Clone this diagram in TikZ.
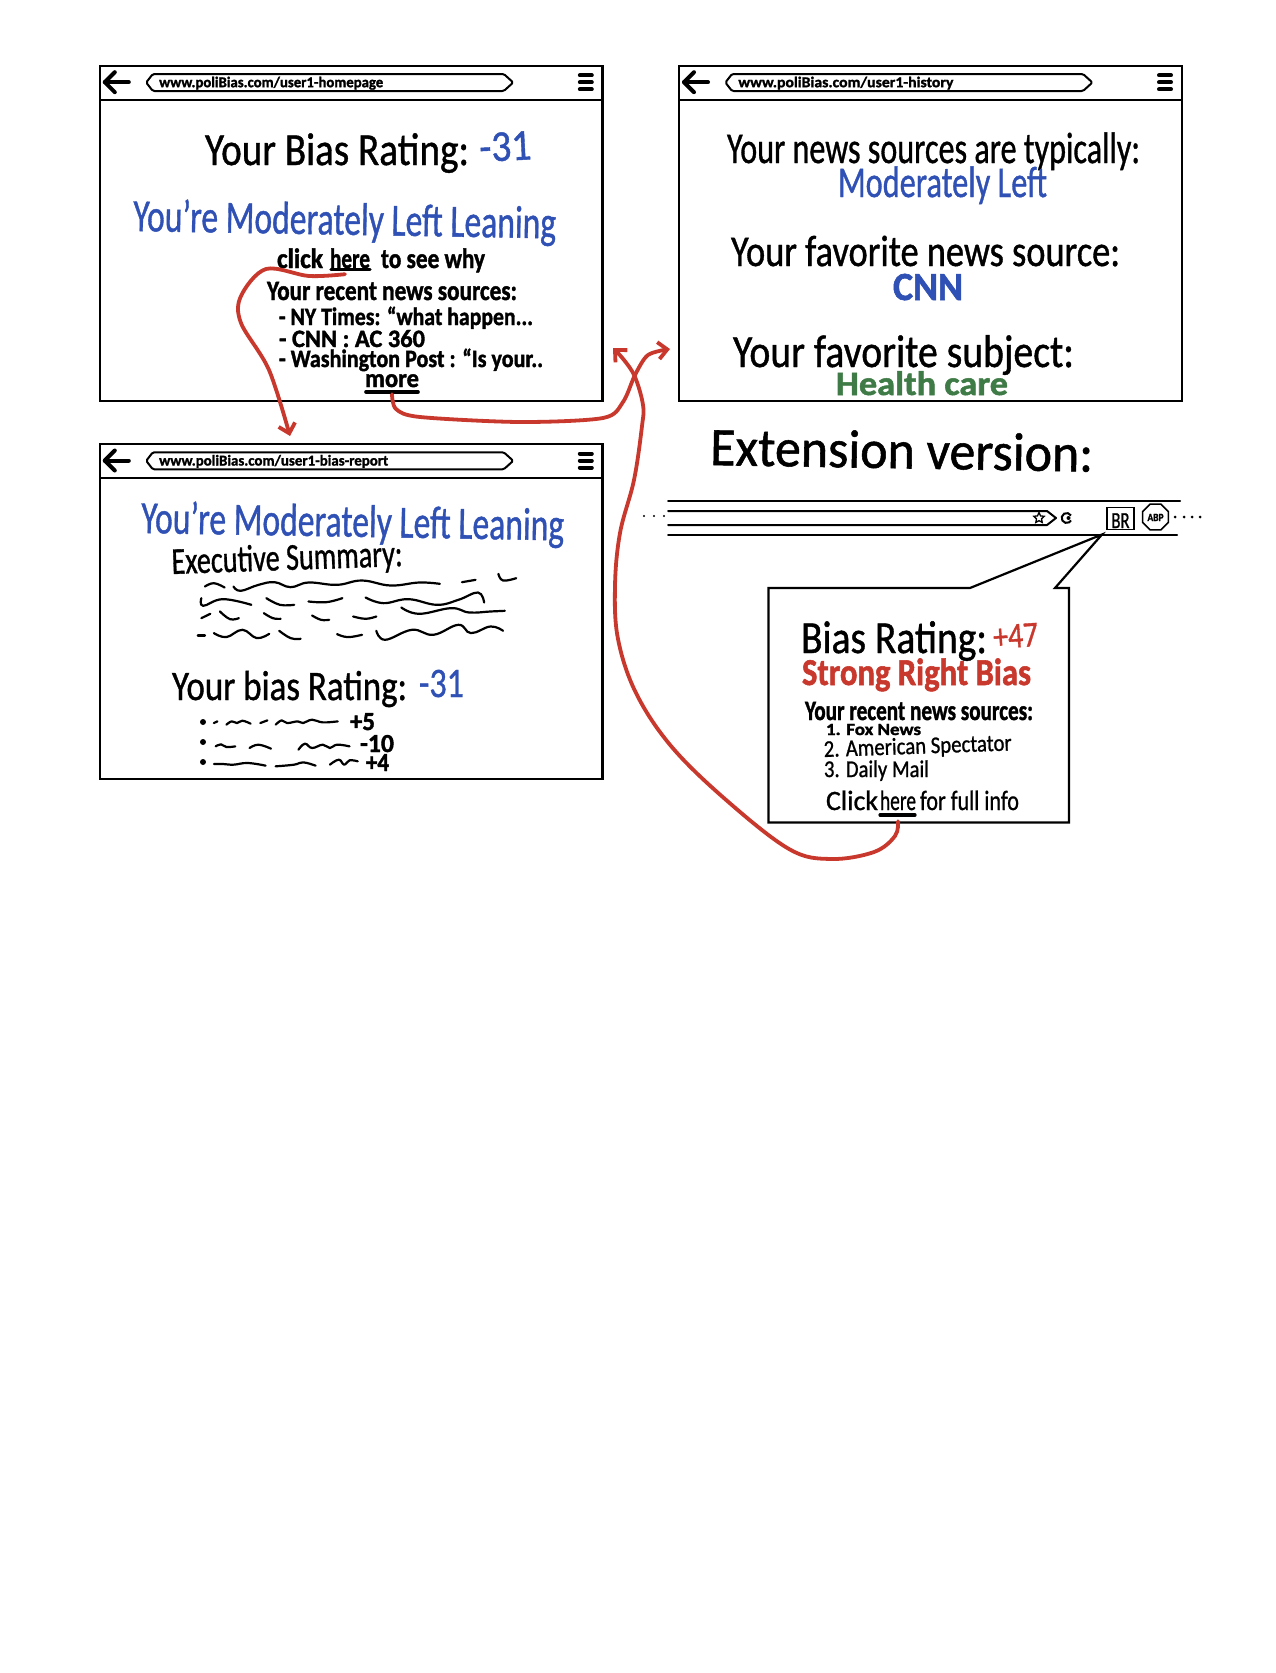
\documentclass[tikz,border=0pt]{standalone}
\usepackage{graphicx}
\usepackage{fontspec}
\setmainfont{Carlito}[FakeBold=1,BoldFeatures={FakeBold=1.5}]
\usetikzlibrary{arrows.meta,shapes.geometric}
\definecolor{inkblue}{HTML}{2F50B4}
\definecolor{inkred}{HTML}{C8382C}
\definecolor{inkgreen}{HTML}{3F7B46}
\tikzset{
  htext/.style={anchor=base west,inner sep=0pt,outer sep=0pt,text=black},
  bluetext/.style={htext,text=inkblue},
  redtext/.style={htext,text=inkred},
  greentext/.style={htext,text=inkgreen},
  heavy/.style={font=\bfseries},
  framebox/.style={draw,line width=2.2pt,anchor=north west,inner sep=0pt,outer sep=0pt},
  pen/.style={line width=2pt,line cap=round,line join=round},
  thick pen/.style={line width=3.2pt,line cap=round,line join=round},
  squig/.style={line width=2.2pt,line cap=round,line join=round},
  flow/.style={draw=inkred,line width=3.8pt,line cap=round,-{Straight Barb[length=9pt,width=17pt]}}
}
\newcommand\hw[7][]{\node[htext,#1] (#2) at (#3,#4) {\resizebox{#5pt}{\height}{\fontsize{#6}{#6}\selectfont #7}};}
\newcommand\wig[1]{\draw[squig] plot[smooth,tension=0.7] coordinates {#1};}
% name, x, y, height, url, urlwidth
\newcommand\browser[6]{%
\begin{scope}[shift={(#2,#3)}]
  \node[framebox,minimum width=502.6pt,minimum height=#4pt] (#1) at (0,0) {};
  \draw[line width=2.2pt] (0,34.3) -- (502.6,34.3);
  \draw[pen,rounded corners=1.5pt] (46.4,16.8) -- (53,8.3) -- (404,8.3) -- (413.4,16.8) -- (404,25.3) -- (53,25.3) -- cycle;
  \node[htext,font=\bfseries] (#1url) at (59.4,21.5) {\resizebox{#6pt}{\height}{\fontsize{15}{15}\selectfont #5}};
  \draw[line width=4pt,line cap=round] (5,16.5) -- (29,16.5);
  \draw[line width=4pt,line cap=round,line join=round] (15,6.5) -- (5,16.5) -- (15,26.5);
  \draw[line width=4pt,line cap=round] (480,9.6) -- (492,9.6) (480,16.6) -- (492,16.6) (480,23.6) -- (492,23.6);
\end{scope}}
\begin{document}
\begin{tikzpicture}[x=1pt,y=-1pt]
\useasboundingbox (0,0) rectangle (1275,1673);
\fill[white] (0,0) rectangle (1275,1673);

% ---------- browser frames
\browser{homepage}{99.8}{65.7}{335}{www.poliBias.com/user1-homepage}{224}
\browser{history}{679}{65.7}{335}{www.poliBias.com/user1-history}{215}
\browser{report}{99.8}{444}{335}{www.poliBias.com/user1-bias-report}{229}

% ---------- homepage
\hw{rateA}{205}{165}{264}{46}{Your Bias Rating:}
\hw[bluetext,rotate=3]{valA}{480}{162}{52}{44}{-31}
\hw[bluetext,rotate=-1]{leanA}{133}{231}{423}{46}{You're Moderately Left Leaning}
\hw[heavy]{clickA}{277}{268}{46}{28}{click}
\hw[heavy]{hereA}{330}{268}{40}{28}{here}
\hw[heavy]{whyA}{381}{268}{104}{28}{to see why}
\hw[heavy]{recentA}{267}{300}{250}{28}{Your recent news sources:}
\hw[heavy]{itemAa}{279}{325}{254}{25}{- NY Times: “what happen...}
\hw[heavy]{itemAb}{279}{347}{146}{25}{- CNN : AC 360}
\hw[heavy]{itemAc}{279}{367}{264}{25}{- Washington Post : “Is your..}
\hw[heavy]{more}{365}{387}{54}{26}{more}
\draw[thick pen] (331,269.5) -- (370,269.5);
\draw[line width=3.6pt,line cap=round] (366,392) -- (418,392);

% ---------- history
\hw{srcB}{727}{163}{413}{44}{Your news sources are typically:}
\hw[bluetext]{leftB}{838}{197}{209}{44}{Moderately Left}
\hw{favB}{731}{266}{389}{44}{Your favorite news source:}
\hw[bluetext,heavy]{cnnB}{893}{300}{70}{40}{CNN}
\hw{subjB}{733}{367}{341}{46}{Your favorite subject:}
\hw[greentext,heavy]{careB}{836}{395}{172}{34}{Health care}

% ---------- report
\hw[bluetext,rotate=-1]{leanC}{141}{533}{423}{46}{You're Moderately Left Leaning}
\hw[rotate=2]{execC}{172}{574}{231}{38}{Executive Summary:}
\hw{rateC}{172}{700}{235}{42}{Your bias Rating:}
\hw[bluetext]{valC}{419}{697}{45}{42}{-31}
\hw[heavy]{ptA}{350}{730}{25}{26}{+5}
\hw[heavy]{ptB}{360}{752}{34}{26}{-10}
\hw[heavy]{ptC}{366}{771}{23}{26}{+4}
\fill (203,722) circle (3) (203,742) circle (3) (203,762) circle (3);

\begin{scope}[shift={(80,430)},xscale=0.357,yscale=0.333]
  \wig{(350,470)(375,460)(405,473)}
  \wig{(430,470)(450,483)(500,465)(545,457)(590,472)(640,458)(720,465)(790,452)(870,467)(950,458)(1008,462)}
  \wig{(1070,457)(1108,450)}
  \wig{(1172,432)(1185,452)(1222,445)}
  \wig{(340,505)(345,528)(400,508)(480,525)}
  \wig{(522,505)(560,525)(600,525)}
  \wig{(640,515)(690,517)(735,505)}
  \wig{(800,503)(850,520)(920,508)(1000,525)(1060,510)(1115,488)(1132,518)}
  \wig{(900,533)(950,552)(1040,535)(1090,548)(1150,545)(1190,543)}
  \wig{(340,565)(365,552)}
  \wig{(392,545)(420,568)(445,565)}
  \wig{(515,550)(540,565)(562,567)}
  \wig{(650,557)(675,570)(698,570)}
  \wig{(765,560)(800,567)(830,560)}
  \wig{(330,617)(350,617)}
  \wig{(375,610)(410,622)(455,600)(495,625)(530,612)}
  \wig{(558,603)(590,625)(618,627)}
  \wig{(720,613)(750,622)(790,615)}
  \wig{(830,603)(855,630)(930,600)(990,615)(1060,585)(1095,610)(1150,590)(1185,603)}
  \wig{(375,880)(385,875)}
  \wig{(410,885)(425,875)(440,880)(455,873)(478,882)}
  \wig{(505,880)(525,872)}
  \wig{(548,885)(565,872)(580,880)(610,875)(625,880)(650,870)(680,878)(722,875)}
  \wig{(380,950)(395,944)(410,952)(435,950)}
  \wig{(475,955)(500,945)(535,957)}
  \wig{(612,960)(630,942)(650,955)(680,945)(700,955)(720,945)(755,950)}
  \wig{(375,1003)(400,1003)(430,1005)(470,1000)(520,1008)}
  \wig{(548,1010)(600,1005)(625,998)(660,1008)}
  \wig{(700,1005)(725,990)(740,1005)(755,992)(778,995)}
\end{scope}

% ---------- extension
\hw[rotate=-1]{extT}{710}{465}{383}{54}{Extension version:}
\draw[pen] (668,501) -- (1180,501);
\draw[pen] (668,534.5) -- (1177,534.5);
\draw[pen] (668,511) -- (1047,511) -- (1056,518) -- (1047,525) -- (668,525);
\node[star,star points=5,star point ratio=2.1,draw,line width=1.3pt,minimum size=11pt,inner sep=0pt] (starF) at (1039,518) {};
\draw[line width=2pt] (1071,515.5) arc[start angle=-30,end angle=-330,radius=5];
\fill (1068.5,518) circle (2);
\fill (644,516) circle (1.1) (654,516) circle (1.1) (664,516) circle (1.1);
\fill (1175,517) circle (1.5) (1184,517) circle (1.5) (1192,517) circle (1.5) (1200,517) circle (1.5);
\node[draw,line width=1.9pt,inner sep=0pt,outer sep=0pt,minimum width=27pt,minimum height=22pt] (brBox) at (1120.5,518.5) {};
\node[htext] (brT) at (1111.5,528) {\resizebox{18pt}{\height}{\fontsize{23}{23}\selectfont BR}};
\node[regular polygon,regular polygon sides=8,draw,line width=1.6pt,inner sep=0pt,outer sep=0pt,minimum size=28pt] (abp) at (1155.5,517) {};
\node[htext,heavy] (abpT) at (1147.5,521) {\resizebox{16pt}{\height}{\fontsize{11}{11}\selectfont ABP}};

% ---------- popup
\coordinate (tipL) at (970,588);
\coordinate (tip) at (1102,534.5);
\coordinate (tipR) at (1055,588);
\draw[line width=2.2pt,line join=miter] (768.5,588) -- (tipL) -- (tip) -- (tipR) -- (1069,588) -- (1069,822.5) -- (768.5,822.5) -- cycle;
\hw{rateD}{801}{653}{186}{46}{Bias Rating:}
\hw[redtext,rotate=4]{valD}{994}{649}{45}{36}{+47}
\hw[redtext,heavy]{strongD}{802}{685}{229}{38}{Strong Right Bias}
\hw[heavy]{recentD}{805}{720}{228}{28}{Your recent news sources:}
\hw[heavy]{itemDa}{826}{735}{95}{17}{1. Fox News}
\hw[rotate=2]{itemDb}{824}{757}{188}{24}{2. American Spectator}
\hw{itemDc}{824}{777}{105}{24}{3. Daily Mail}
\hw{clickD}{826}{810}{52}{28}{Click}
\hw{hereD}{880}{810}{36}{28}{here}
\hw{infoD}{920}{810}{99}{28}{for full info}
\draw[line width=3.2pt,line cap=round] (880,815) -- (915,815);

% ---------- connectors
\coordinate (endA) at (290,436);
\coordinate (endB) at (670,349);
\coordinate (endC) at (613,348);
\draw[flow] plot[smooth,tension=0.55] coordinates {([xshift=-5pt,yshift=-6pt]hereA.south) (309,276) (266,269) (241,296) (241,323) (269,370) (endA)};
\draw[flow] plot[smooth,tension=0.5] coordinates {([yshift=-7pt]more.south) (396,409) (420,417) (520,422) (603,418) (623,402) (635,375) (648,355) (endB)};
\draw[flow] plot[smooth,tension=0.6] coordinates {([yshift=-11pt]hereD.south) (895,836) (874,852) (831,859) (789,849) (725,799) (671,746) (636,693) (618,639) (615,586) (620,533) (634,480) (642,426) (643,405) (635,377) (624,360) (endC)};
\end{tikzpicture}
\end{document}
